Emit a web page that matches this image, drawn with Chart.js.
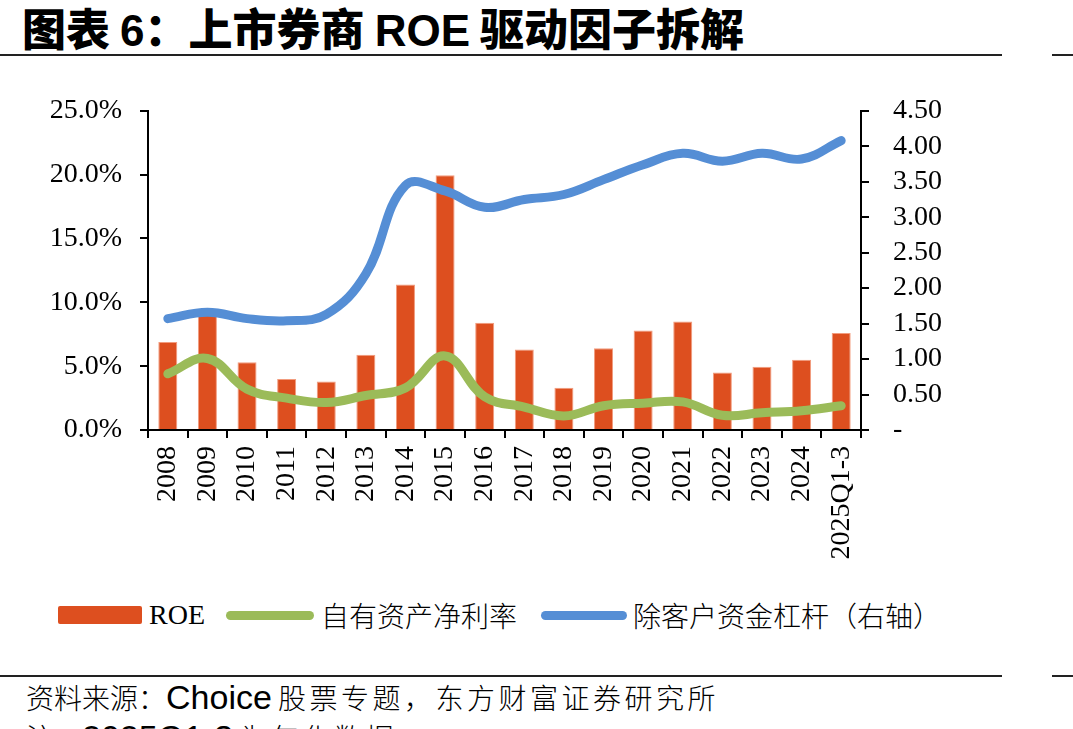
<!DOCTYPE html>
<html>
<head>
<meta charset="utf-8">
<script src="https://cdn.jsdelivr.net/npm/chart.js@4/dist/chart.umd.min.js"></script>
<style>
  body { margin: 0; background: #fff; width: 1073px; height: 729px; overflow: hidden; position: relative; }
  .abs { position: absolute; white-space: nowrap; color: #000; }
  .title { left: 22px; top: 1px; font: 900 44px "Noto Sans CJK SC", sans-serif; line-height: 52px; }
  .title .lat { font-family: "Liberation Sans", Arial, sans-serif; font-weight: 700; }
  .rule { position: absolute; height: 2px; background: #222; }
  .leg-text { font: 28px "Noto Sans CJK SC", sans-serif; line-height: 34px; top: 598px; font-weight: 300; }
  .leg-roe { font: 28px "Liberation Serif", serif; line-height: 34px; top: 598px; }
  .foot { left: 26px; font: 300 28px "Noto Sans CJK SC", sans-serif; line-height: 36px; }
  .foot .lat { font-family: "Liberation Sans", Arial, sans-serif; font-weight: 400; font-size: 34px; }
  .foot .wide { letter-spacing: 3.5px; }
</style>
</head>
<body>
<div class="abs title">图表 <span class="lat">6</span>：上市券商 <span class="lat">ROE</span> 驱动因子拆解</div>
<div class="rule" style="left:0;top:54px;width:1002px"></div>
<div class="rule" style="left:1052px;top:54px;width:21px"></div>

<canvas id="c" width="1073" height="520" style="position:absolute;left:0;top:70px"></canvas>

<div class="abs" style="left:58px;top:606px;width:84px;height:18px;background:#DD4F1F;border-radius:2px"></div>
<div class="abs leg-roe" style="left:149px">ROE</div>
<div class="abs" style="left:226px;top:611px;width:88px;height:9px;background:#9BBB59;border-radius:5px"></div>
<div class="abs leg-text" style="left:321px">自有资产净利率</div>
<div class="abs" style="left:541px;top:611px;width:86px;height:9px;background:#558ED5;border-radius:5px"></div>
<div class="abs leg-text" style="left:633px">除客户资金杠杆（右轴）</div>

<div class="rule" style="left:0;top:675px;width:1002px"></div>
<div class="rule" style="left:1052px;top:675px;width:21px"></div>
<div class="abs foot" style="top:679px">资料来源：<span class="lat">Choice</span> <span class="wide">股票专题，东方财富证券研究所</span></div>
<div class="abs foot" style="top:719px">注：<span class="lat">2025Q1-3</span> <span class="wide">为年化数据</span></div>

<script>
const categories = ["2008", "2009", "2010", "2011", "2012", "2013", "2014", "2015", "2016",
  "2017", "2018", "2019", "2020", "2021", "2022", "2023", "2024", "2025Q1-3"];
// ROE, %
const roe = [6.9, 9.0, 5.3, 4.0, 3.8, 5.9, 11.4, 19.95, 8.4, 6.3, 3.3, 6.4, 7.8, 8.5, 4.5, 4.95, 5.5, 7.6];
// own-asset net margin, %
const netMargin = [4.4, 5.6, 3.2, 2.5, 2.15, 2.7, 3.3, 5.8, 2.6, 1.8, 1.1, 1.9, 2.1, 2.2, 1.15, 1.35, 1.5, 1.9];
// leverage ex client funds (right axis)
const leverage = [1.57, 1.66, 1.57, 1.54, 1.63, 2.2, 3.45, 3.37, 3.14, 3.25, 3.32, 3.53, 3.74, 3.90, 3.79, 3.90, 3.82, 4.08];

const tickFont = { family: "Liberation Serif", size: 28 };

new Chart(document.getElementById("c"), {
  data: {
    labels: categories,
    datasets: [
      {
        type: "line", label: "自有资产净利率", data: netMargin, yAxisID: "y",
        borderColor: "#9BBB59", borderWidth: 9, tension: 0.4, pointRadius: 0,
        borderCapStyle: "round", borderJoinStyle: "round", order: 2
      },
      {
        type: "line", label: "除客户资金杠杆（右轴）", data: leverage, yAxisID: "y1",
        borderColor: "#558ED5", borderWidth: 9, tension: 0.4, pointRadius: 0,
        borderCapStyle: "round", borderJoinStyle: "round", order: 1
      },
      {
        type: "bar", label: "ROE", data: roe, yAxisID: "y",
        backgroundColor: "#DD4F1F", borderColor: "#F29C7E", borderWidth: 1,
        categoryPercentage: 1, barPercentage: 0.48, order: 3
      }
    ]
  },
  options: {
    responsive: false,
    devicePixelRatio: 1,
    animation: false,
    layout: { padding: { top: 35, left: 0, right: 0, bottom: 0 } },
    plugins: { legend: { display: false }, tooltip: { enabled: false } },
    scales: {
      x: {
        offset: true,
        grid: { offset: true, drawOnChartArea: false, drawTicks: true, tickLength: 8, color: "#000", lineWidth: 2 },
        border: { color: "#000", width: 2 },
        ticks: { font: tickFont, color: "#000", minRotation: 90, maxRotation: 90, autoSkip: false, padding: 8 },
        afterFit: s => { s.height = 160; }
      },
      y: {
        position: "left", min: 0, max: 25,
        grid: { drawOnChartArea: false, tickLength: 8, color: "#000", lineWidth: 2 },
        border: { color: "#000", width: 2 },
        ticks: { stepSize: 5, autoSkip: false, font: tickFont, color: "#000", padding: 18, callback: v => v.toFixed(1) + "%" },
        afterFit: s => { s.width = 148; }
      },
      y1: {
        position: "right", min: 0, max: 4.5,
        grid: { drawOnChartArea: false, tickLength: 8, color: "#000", lineWidth: 2 },
        border: { color: "#000", width: 2 },
        ticks: { stepSize: 0.5, autoSkip: false, font: tickFont, color: "#000", padding: 24, callback: v => v === 0 ? "-" : v.toFixed(2) },
        afterFit: s => { s.width = 212; }
      }
    }
  }
});
</script>
</body>
</html>
